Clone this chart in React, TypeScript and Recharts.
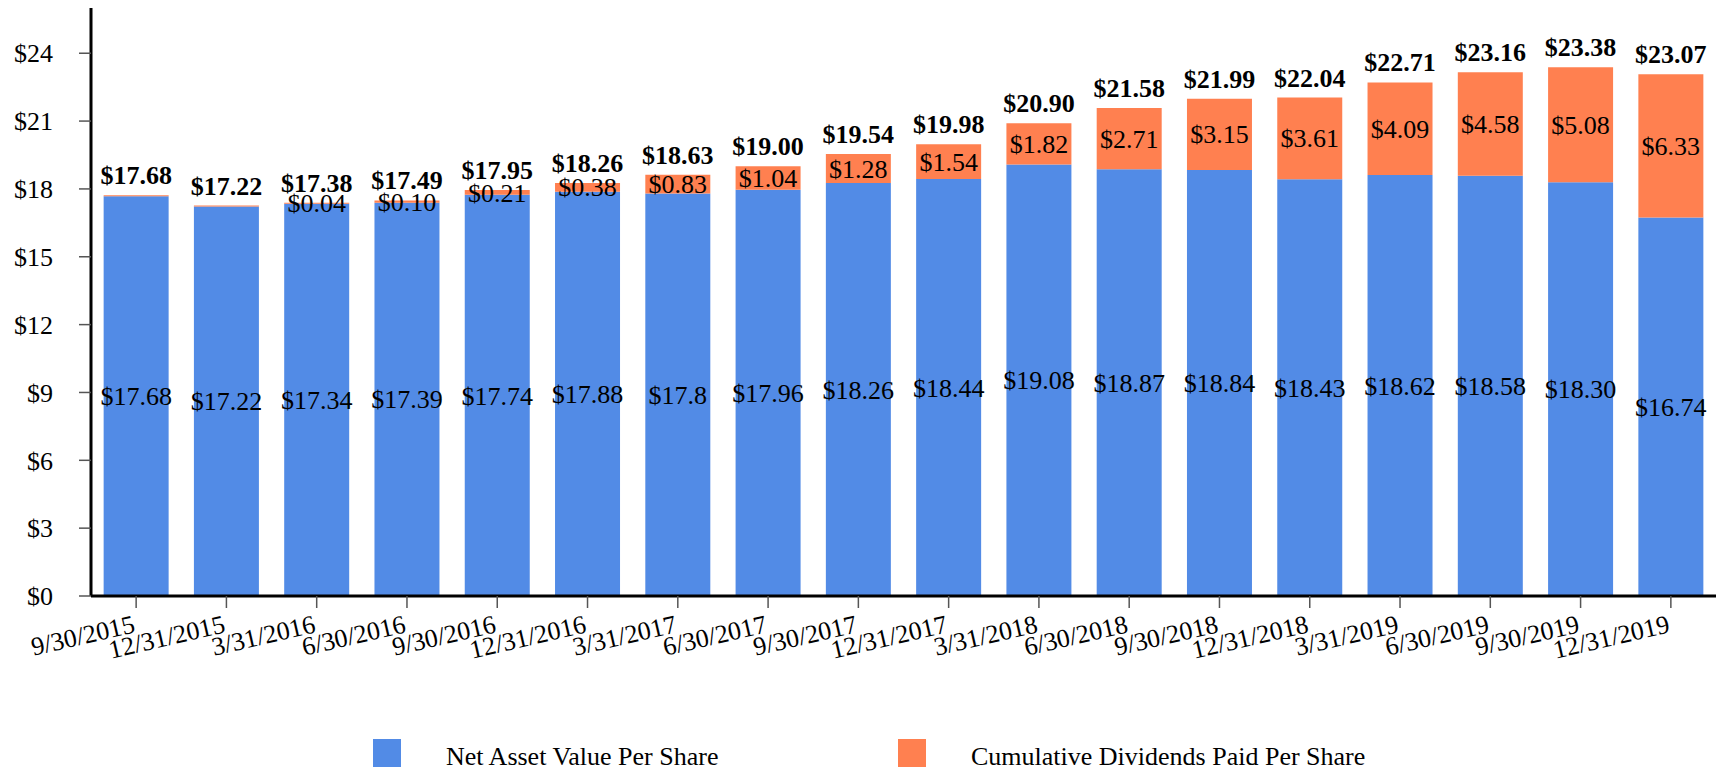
import { BarChart, Bar, XAxis, YAxis, Legend, LabelList } from 'recharts';

const quarters = ['9/30/2015','12/31/2015','3/31/2016','6/30/2016','9/30/2016','12/31/2016','3/31/2017','6/30/2017','9/30/2017','12/31/2017','3/31/2018','6/30/2018','9/30/2018','12/31/2018','3/31/2019','6/30/2019','9/30/2019','12/31/2019'];
const nav = [17.68,17.22,17.34,17.39,17.74,17.88,17.80,17.96,18.26,18.44,19.08,18.87,18.84,18.43,18.62,18.58,18.30,16.74];
const navLabels = ['$17.68','$17.22','$17.34','$17.39','$17.74','$17.88','$17.8','$17.96','$18.26','$18.44','$19.08','$18.87','$18.84','$18.43','$18.62','$18.58','$18.30','$16.74'];
const dividends = [0,0,0.04,0.10,0.21,0.38,0.83,1.04,1.28,1.54,1.82,2.71,3.15,3.61,4.09,4.58,5.08,6.33];
const yTicks = [0,3,6,9,12,15,18,21,24];

const NAV_COLOR = '#528BE6';
const DIV_COLOR = '#FF8050';
const FONT = '"Liberation Serif", "Times New Roman", serif';
const FS = 26;

const data = quarters.map((q, i) => ({
  q,
  nav: nav[i],
  navLabel: navLabels[i],
  div: dividends[i],
  divLabel: dividends[i] > 0 ? '$' + dividends[i].toFixed(2) : '',
  total: '$' + (nav[i] + dividends[i]).toFixed(2),
}));

const XTick = ({ x, y, payload }: any) => (
  <g transform={`translate(${x},${y + 24})`}>
    <text textAnchor="end" transform="rotate(-13)" fontSize={FS} fill="#000" fontFamily={FONT}>
      {payload.value}
    </text>
  </g>
);

// centered label inside a bar segment
const CenterLabel = ({ x, y, width, height, value }: any) => {
  if (!value) return null;
  return (
    <text x={x + width / 2} y={y + height / 2} dy="0.35em" textAnchor="middle" fontSize={FS} fill="#000" fontFamily={FONT}>
      {value}
    </text>
  );
};

// bold total above the stack
const TopLabel = ({ x, y, width, value }: any) => (
  <text x={x + width / 2} y={y - 11} textAnchor="middle" fontSize={FS} fontWeight="bold" fill="#000" fontFamily={FONT}>
    {value}
  </text>
);

const LegendBox = () => (
  <div style={{ position: 'relative', height: 40, width: 1721, fontFamily: FONT, fontSize: FS }}>
    {[{ name: 'Net Asset Value Per Share', c: NAV_COLOR, x: 373 }, { name: 'Cumulative Dividends Paid Per Share', c: DIV_COLOR, x: 898 }].map(it => (
      <div key={it.name} style={{ position: 'absolute', left: it.x, top: 11, display: 'flex', alignItems: 'center' }}>
        <div style={{ width: 28, height: 28, background: it.c }} />
        <span style={{ marginLeft: 45, whiteSpace: 'nowrap', lineHeight: '28px', position: 'relative', top: 4 }}>{it.name}</span>
      </div>
    ))}
  </div>
);

export default function App() {
  return (
    <div style={{ position: 'absolute', left: 0, top: 0, width: 1721, height: 768, fontFamily: FONT }}>
      <BarChart width={1721} height={768} data={data} margin={{ top: 8, right: 5, left: 0, bottom: 0 }} barCategoryGap="14%">
        <XAxis dataKey="q" height={132} interval={0} tickSize={12} tickMargin={0}
          axisLine={{ stroke: '#000', strokeWidth: 3 }} tickLine={{ stroke: '#555', strokeWidth: 1.5 }} tick={<XTick />} />
        <YAxis width={91} domain={[0, 26]} ticks={yTicks} tickSize={12} tickMargin={26} allowDataOverflow
          tickFormatter={(v: number) => '$' + v}
          axisLine={{ stroke: '#000', strokeWidth: 3 }} tickLine={{ stroke: '#555', strokeWidth: 1.5 }}
          tick={{ fill: '#000', fontSize: FS, fontFamily: FONT }} />
        <Legend verticalAlign="bottom" height={40} content={() => <LegendBox />} />
        <Bar dataKey="nav" stackId="a" fill={NAV_COLOR} name="Net Asset Value Per Share" isAnimationActive={false}>
          <LabelList dataKey="navLabel" content={<CenterLabel />} />
        </Bar>
        <Bar dataKey="div" stackId="a" fill={DIV_COLOR} name="Cumulative Dividends Paid Per Share" minPointSize={1} isAnimationActive={false}>
          <LabelList dataKey="divLabel" content={<CenterLabel />} />
          <LabelList dataKey="total" content={<TopLabel />} />
        </Bar>
      </BarChart>
    </div>
  );
}
